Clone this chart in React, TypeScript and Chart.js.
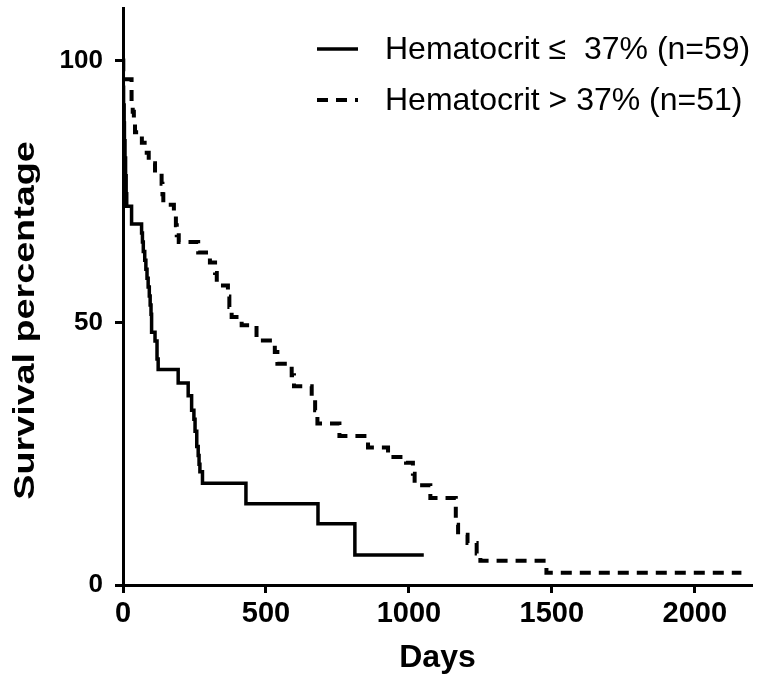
import React, { useEffect, useRef } from "react";
import { Chart, registerables } from "chart.js";

Chart.register(...registerables);

// Kaplan-Meier curve: Hematocrit <= 37% (n=59)
const lowDays = [0, 1, 2, 4, 5, 7, 9, 11, 13, 30, 65, 68, 71, 76, 80, 84, 88, 92, 95, 98, 100, 112, 119, 123, 193, 228, 240, 248, 252, 258, 263, 266, 269, 278, 430, 682, 811, 1052];
const lowSurv = [100, 94.9, 91.5, 88.1, 84.7, 81.4, 78.0, 74.6, 72.2, 68.8, 67.1, 65.4, 63.6, 61.9, 60.2, 58.5, 56.8, 55.1, 53.4, 51.6, 48.2, 46.5, 43.1, 41.1, 38.5, 36.1, 33.3, 31.6, 29.3, 26.4, 24.7, 23.0, 21.6, 19.4, 15.5, 11.7, 5.7, 5.7];

// Kaplan-Meier curve: Hematocrit > 37% (n=51)
const highDays = [0, 1, 30, 34, 38, 42, 66, 83, 90, 112, 135, 138, 141, 178, 185, 188, 195, 263, 304, 322, 328, 367, 372, 380, 415, 467, 531, 540, 590, 598, 660, 672, 680, 757, 857, 927, 990, 1014, 1020, 1075, 1164, 1172, 1205, 1237, 1250, 1481, 2163];
const highSurv = [100, 96.4, 92.2, 90.2, 88.2, 86.3, 84.3, 82.4, 80.4, 78.4, 76.5, 74.5, 72.5, 70.6, 68.6, 66.7, 65.4, 63.4, 61.5, 59.5, 57.1, 55.0, 53.0, 51.1, 49.5, 46.6, 44.4, 42.2, 40.0, 37.9, 35.3, 33.3, 30.8, 28.4, 26.2, 24.4, 23.3, 21.2, 19.0, 16.6, 11.5, 9.6, 8.0, 6.0, 4.6, 2.35, 2.35];

const seriesLabels = ["Hematocrit \u2264  37% (n=59)", "Hematocrit > 37% (n=51)"];
const xTickValues = [0, 500, 1000, 1500, 2000];
const yTickValues = [0, 50, 100];
const xTitle = "Days";
const yTitle = "Survival percentage";

const SANS = "'Liberation Sans', Arial, sans-serif";

const legendPlugin = {
  id: "customLegend",
  afterDraw(chart: any) {
    const ctx = chart.ctx;
    const rows = [49, 100];
    chart.data.datasets.forEach((ds: any, i: number) => {
      const y = rows[i];
      ctx.save();
      ctx.strokeStyle = "#000";
      ctx.lineWidth = ds.borderWidth;
      ctx.setLineDash(ds.borderDash || []);
      ctx.beginPath();
      ctx.moveTo(317, y);
      ctx.lineTo(358, y);
      ctx.stroke();
      ctx.setLineDash([]);
      ctx.fillStyle = "#000";
      ctx.font = "32px " + SANS;
      ctx.textAlign = "left";
      ctx.textBaseline = "middle";
      ctx.fillText(ds.label, 385, y + 1);
      ctx.restore();
    });
  },
};

const yTitlePlugin = {
  id: "yTitle",
  afterDraw(chart: any) {
    const ctx = chart.ctx;
    const area = chart.chartArea;
    ctx.save();
    ctx.translate(26, (area.top + area.bottom) / 2 + 24);
    ctx.rotate(-Math.PI / 2);
    ctx.scale(1.3, 1);
    ctx.fillStyle = "#000";
    ctx.font = "bold 29px " + SANS;
    ctx.textAlign = "center";
    ctx.textBaseline = "middle";
    ctx.fillText(yTitle, 0, 0);
    ctx.restore();
  },
};

export default function App() {
  const ref = useRef<HTMLCanvasElement>(null);

  useEffect(() => {
    if (!ref.current) return;
    const chart = new Chart(ref.current, {
      type: "line",
      data: {
        datasets: [
          {
            label: seriesLabels[0],
            data: lowDays.map((d, i) => ({ x: d, y: lowSurv[i] })),
            borderColor: "#000",
            borderWidth: 3.5,
            stepped: true,
            pointRadius: 0,
            fill: false,
            borderCapStyle: "butt",
          },
          {
            label: seriesLabels[1],
            data: highDays.map((d, i) => ({ x: d, y: highSurv[i] })),
            borderColor: "#000",
            borderWidth: 4,
            borderDash: [11, 8],
            stepped: true,
            pointRadius: 0,
            fill: false,
            borderCapStyle: "butt",
          },
        ],
      },
      options: {
        animation: false,
        responsive: false,
        devicePixelRatio: 1,
        layout: { padding: { left: 0, top: 8, right: 11, bottom: 0 } },
        plugins: {
          legend: { display: false },
          tooltip: { enabled: false },
        },
        scales: {
          x: {
            type: "linear",
            min: 0,
            max: 2200,
            afterFit: (s: any) => {
              s.height = 99;
              s.paddingLeft = 0;
              s.paddingRight = 0;
            },
            afterBuildTicks: (s: any) => {
              s.ticks = xTickValues.map((v) => ({ value: v }));
            },
            ticks: {
              color: "#000",
              padding: 4,
              maxRotation: 0,
              callback: (v: any) => String(v),
              font: { family: SANS, size: 29, weight: "bold" },
            },
            grid: {
              drawOnChartArea: false,
              drawTicks: true,
              tickLength: 8,
              tickWidth: 3,
              tickColor: "#000",
              color: "#000",
            },
            border: { display: true, color: "#000", width: 3 },
            title: {
              display: true,
              text: xTitle,
              color: "#000",
              font: { family: SANS, size: 32, weight: "bold" },
              padding: { top: 0, bottom: 7 },
            },
          },
          y: {
            type: "linear",
            min: 0,
            max: 110,
            afterFit: (s: any) => {
              s.width = 123;
              s.paddingTop = 0;
              s.paddingBottom = 0;
            },
            afterBuildTicks: (s: any) => {
              s.ticks = yTickValues.map((v) => ({ value: v }));
            },
            ticks: {
              color: "#000",
              padding: 12,
              callback: (v: any) => String(v),
              font: { family: SANS, size: 26, weight: "bold" },
            },
            grid: {
              drawOnChartArea: false,
              drawTicks: true,
              tickLength: 8,
              tickWidth: 3,
              tickColor: "#000",
              color: "#000",
            },
            border: { display: true, color: "#000", width: 3 },
          },
        },
      },
      plugins: [legendPlugin, yTitlePlugin],
    } as any);
    return () => chart.destroy();
  }, []);

  return (
    <div style={{ position: "fixed", left: 0, top: 0, width: 763, height: 684, background: "#fff" }}>
      <canvas ref={ref} width={763} height={684} style={{ display: "block" }} />
    </div>
  );
}
